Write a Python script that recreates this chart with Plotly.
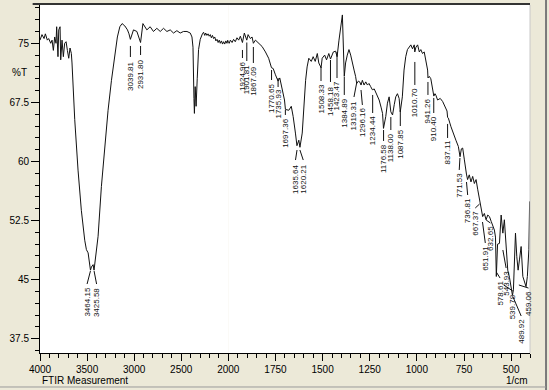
import plotly.graph_objects as go

# ---------------- data ----------------
wavenumber = [
    4000, 3979, 3957, 3943, 3922, 3908, 3886, 3872, 3858, 3844, 3830, 3823, 3809, 3801,
    3787, 3780, 3766, 3752, 3738, 3723, 3709, 3695, 3681, 3667, 3660, 3631, 3596, 3561,
    3525, 3507, 3489, 3472, 3464, 3454, 3436, 3426, 3412, 3383, 3348, 3312, 3277, 3241,
    3205, 3178, 3152, 3128, 3099, 3071, 3055, 3040, 3007, 2971, 2932, 2907, 2865, 2830,
    2795, 2759, 2723, 2688, 2652, 2617, 2582, 2546, 2511, 2476, 2439, 2404, 2386, 2375,
    2365, 2360, 2352, 2342, 2330, 2316, 2298, 2291, 2275, 2263, 2250, 2240, 2227, 2215,
    2203, 2191, 2180, 2168, 2156, 2144, 2132, 2120, 2108, 2096, 2085, 2073, 2061, 2050,
    2038, 2026, 2014, 2005, 1995, 1989, 1980, 1972, 1963, 1954, 1945, 1936, 1925, 1915,
    1902, 1895, 1883, 1874, 1867, 1856, 1839, 1821, 1803, 1786, 1771, 1762, 1750, 1736,
    1727, 1714, 1702, 1697, 1679, 1666, 1656, 1644, 1636, 1626, 1620, 1608, 1600, 1590,
    1582, 1573, 1560, 1550, 1539, 1528, 1520, 1508, 1502, 1489, 1479, 1467, 1458, 1443,
    1431, 1423, 1413, 1404, 1395, 1385, 1378, 1369, 1360, 1351, 1342, 1333, 1325, 1319,
    1310, 1303, 1296, 1289, 1280, 1271, 1262, 1254, 1245, 1236, 1226, 1218, 1200, 1190,
    1182, 1177, 1170, 1165, 1156, 1147, 1138, 1129, 1120, 1112, 1103, 1094, 1088, 1081,
    1077, 1068, 1059, 1050, 1041, 1032, 1023, 1014, 1011, 1005, 996, 987, 979, 970,
    961, 952, 943, 941, 934, 926, 917, 910, 904, 899, 890, 876, 863, 851,
    840, 837, 833, 819, 805, 793, 780, 771, 764, 757, 748, 740, 737, 731,
    722, 713, 704, 695, 686, 677, 669, 659, 651, 642, 633, 624, 615, 606,
    597, 589, 583, 578.6, 572, 562, 553, 544, 536, 527, 518, 509, 500, 493,
    488, 477, 470, 463, 456, 447, 438, 430, 421, 414, 406, 402, 400,
]
transmittance = [
    75.4, 76.1, 75.6, 76.2, 75.4, 75.6, 75.0, 75.4, 74.1, 75.8, 75.0, 77.1, 73.3, 76.7,
    77.1, 72.9, 75.4, 73.3, 75.0, 75.2, 74.1, 73.1, 74.4, 73.7, 72.5, 65.3, 58.9, 53.8,
    50.0, 48.8, 48.4, 46.9, 46.2, 46.6, 46.9, 46.2, 47.5, 50.5, 56.8, 61.9, 66.5, 70.3,
    73.3, 75.8, 77.1, 77.5, 77.2, 76.7, 76.2, 75.5, 76.7, 76.5, 75.1, 77.5, 76.7, 77.1,
    76.5, 76.9, 76.5, 76.9, 76.5, 76.7, 76.3, 76.6, 76.3, 76.5, 76.5, 76.3, 75.8, 74.5,
    68.0, 66.1, 69.5, 67.0, 70.5, 74.2, 75.5, 75.8, 76.2, 76.4, 76.0, 76.3, 76.0, 76.2,
    75.9, 76.1, 75.7, 76.0, 75.6, 75.8, 75.3, 75.5, 75.1, 75.4, 75.0, 75.3, 74.9, 75.2,
    74.9, 75.3, 75.0, 75.4, 75.0, 75.4, 75.1, 75.5, 75.2, 75.7, 75.4, 75.9, 75.1, 76.3,
    75.4, 76.1, 75.6, 75.8, 75.0, 75.4, 75.0, 74.6, 73.9, 73.1, 71.9, 71.8, 71.0, 70.2,
    70.6, 69.1, 67.8, 66.6, 66.5, 67.0, 65.7, 63.6, 62.0, 62.7, 61.8, 63.6, 67.0, 70.3,
    72.0, 73.1, 72.7, 73.3, 72.7, 73.7, 72.5, 71.9, 73.1, 73.5, 72.9, 73.7, 73.0, 73.9,
    74.0, 73.3, 75.4, 77.1, 78.6, 70.8, 72.5, 73.5, 74.2, 73.5, 72.7, 71.6, 70.8, 69.9,
    70.2, 70.1, 69.7, 70.3, 69.7, 70.1, 69.7, 69.9, 69.5, 69.1, 69.2, 68.7, 67.8, 66.9,
    66.1, 64.2, 65.0, 65.7, 67.4, 68.2, 66.3, 65.9, 67.2, 68.2, 68.6, 68.0, 66.3, 68.0,
    68.2, 71.6, 73.3, 74.2, 74.5, 74.8, 74.3, 74.8, 73.9, 74.5, 74.8, 73.9, 74.2, 73.7,
    73.9, 72.9, 71.6, 70.6, 70.8, 70.5, 69.5, 68.3, 68.6, 68.4, 67.8, 68.0, 67.6, 67.0,
    66.4, 65.6, 65.5, 64.4, 63.6, 62.7, 61.9, 60.6, 61.6, 61.7, 60.2, 58.5, 58.4, 57.7,
    58.3, 57.4, 58.1, 57.2, 57.7, 56.4, 55.3, 54.3, 53.0, 53.4, 52.6, 53.2, 53.0, 52.4,
    51.9, 51.3, 50.4, 45.4, 49.5, 49.6, 53.2, 50.9, 52.6, 49.2, 46.2, 45.3, 44.1, 43.0,
    43.7, 50.9, 47.9, 46.2, 47.5, 49.2, 45.4, 44.6, 44.1, 45.4, 48.8, 54.9, 54.9,
]

# peak labels (value = wavenumber of the picked peak)
peak_labels = [
    "3464.15", "3425.58", "3039.81", "2931.80", "1924.96", "1901.81", "1867.09",
    "1770.65", "1735.93", "1697.36", "1635.64", "1620.21", "1508.33", "1458.18",
    "1423.47", "1384.89", "1319.31", "1296.16", "1234.44", "1176.58", "1138.00",
    "1087.85", "1010.70", "941.26", "910.40", "837.11", "771.53", "736.81",
    "667.37", "651.91", "632.65", "578.61", "543.93", "539.78", "489.92", "459.06",
]
# where each label's text sits (wavenumber) and its leader / text levels (%T)
label_text_wn = [
    3500, 3399, 3039.81, 2931.80, 1924.96, 1901.81, 1867.09,
    1770.65, 1735.93, 1697.36, 1643.6, 1602.7, 1508.33, 1458.18,
    1423.47, 1384.89, 1333.5, 1288.9, 1234.44, 1176.58, 1138.00,
    1087.85, 1010.70, 941.26, 910.40, 837.11, 775.3, 730.6,
    690.2, 637.0, 610.2, 558.7, 526.6, 491.0, 446.8, 408.0,
]
leader_start_T = [
    46.09, 46.09, 74.66, 74.66, 74.15, 75.10, 74.53,
    71.61, 70.59, 66.53, 61.45, 61.45, 71.99, 72.88,
    73.90, 70.72, 69.96, 69.07, 68.44, 63.99, 65.64,
    66.53, 72.63, 70.09, 68.06, 64.76, 60.44, 57.39,
    54.60, 52.31, 52.57, 45.96, 48.76, 44.32, 42.79, 44.32,
]
leader_end_T = [
    44.44, 44.44, 73.26, 73.51, 73.13, 72.75, 72.50,
    70.34, 69.45, 65.90, 60.18, 60.18, 70.21, 70.09,
    70.59, 68.44, 68.18, 67.17, 66.15, 62.60, 63.99,
    64.50, 69.71, 68.44, 66.15, 62.98, 58.92, 55.74,
    54.09, 49.65, 52.19, 45.20, 46.47, 43.55, 40.38, 43.93,
]
label_top_T = [
    44.06, 44.06, 72.75, 73.01, 72.75, 72.37, 72.12,
    69.96, 69.20, 65.52, 59.68, 59.68, 69.83, 69.58,
    70.21, 68.06, 67.80, 66.91, 65.90, 62.34, 63.74,
    64.12, 69.45, 68.18, 65.90, 62.73, 58.66, 55.49,
    53.84, 49.39, 51.93, 44.95, 46.21, 43.30, 40.12, 43.68,
]

x_ticks_high = [4000, 3500, 3000, 2500]
x_minor_high = [3900, 3800, 3700, 3600, 3400, 3300, 3200, 3100,
                2900, 2800, 2700, 2600, 2400, 2300, 2200, 2100]
x_ticks_low = [2000, 1750, 1500, 1250, 1000, 750, 500]
x_minor_low = [v for v in range(1950, 399, -50) if v % 250 != 0]
y_ticks = [75, 67.5, 60, 52.5, 45, 37.5]
y_ticktext = ["75", "67.5", "60", "52.5", "45", "37.5"]

# ---------------- figure ----------------
FONT = "Liberation Sans, Arial, sans-serif"
split = 188.3 / 490.0  # 4000-2000 is drawn at half scale

fig = go.Figure()
for xa in ("x", "x2"):
    fig.add_trace(go.Scatter(
        x=wavenumber, y=transmittance, xaxis=xa, yaxis="y", mode="lines",
        line=dict(color="#111111", width=1), hoverinfo="skip", showlegend=False))

# leader lines
lx, ly = [], []
for w_txt, w_lab, t0, t1 in zip(label_text_wn, peak_labels, leader_start_T, leader_end_T):
    lx += [float(w_lab), w_txt, None]
    ly += [t0, t1, None]
for xa in ("x", "x2"):
    fig.add_trace(go.Scatter(
        x=lx, y=ly, xaxis=xa, yaxis="y", mode="lines",
        line=dict(color="#111111", width=1), hoverinfo="skip", showlegend=False))

annotations = []
for txt, w_txt, t_top in zip(peak_labels, label_text_wn, label_top_T):
    annotations.append(dict(
        text=txt, x=w_txt, y=t_top, xref="x" if w_txt >= 2000 else "x2", yref="y",
        xanchor="center", yanchor="top", textangle=-90, showarrow=False,
        font=dict(family=FONT, size=8, color="#111111"), borderpad=0))

annotations += [
    dict(text="%T", xref="paper", yref="y", x=-0.022, y=71.25, xanchor="right",
         yanchor="middle", showarrow=False, font=dict(family=FONT, size=10, color="black")),
    dict(text="FTIR Measurement", xref="paper", yref="paper", x=0, y=-0.078,
         xanchor="left", yanchor="middle", showarrow=False,
         font=dict(family=FONT, size=10, color="black")),
    dict(text="1/cm", xref="paper", yref="paper", x=1, y=-0.078,
         xanchor="right", yanchor="middle", showarrow=False,
         font=dict(family=FONT, size=10, color="black")),
]

axis_common = dict(showgrid=False, zeroline=False, showline=True, linecolor="black",
                   linewidth=1, ticks="outside", ticklen=7, tickcolor="black",
                   tickfont=dict(family=FONT, size=10, color="black"), anchor="y")

fig.update_layout(
    width=549, height=390,
    margin=dict(l=40, r=19, t=5, b=37),
    paper_bgcolor="#ECE9D8", plot_bgcolor="white",
    xaxis=dict(domain=[0, split], range=[4000, 2000], tickmode="array",
               tickvals=x_ticks_high, ticktext=[str(v) for v in x_ticks_high],
               minor=dict(tickmode="array", tickvals=x_minor_high, ticklen=4,
                          ticks="outside", tickcolor="black"),
               **axis_common),
    xaxis2=dict(domain=[split, 1], range=[2000, 400], tickmode="array",
                tickvals=x_ticks_low, ticktext=[str(v) for v in x_ticks_low],
                minor=dict(tickmode="array", tickvals=x_minor_low, ticklen=4,
                           ticks="outside", tickcolor="black"),
                **axis_common),
    yaxis=dict(range=[35.685, 79.86], tickmode="array", tickvals=y_ticks,
               ticktext=y_ticktext, showgrid=False, zeroline=False, showline=True,
               linecolor="black", linewidth=1, ticks="outside", ticklen=8,
               tickcolor="black", anchor="x",
               minor=dict(dtick=1.5, tick0=37.5, ticklen=4, ticks="outside",
                          tickcolor="black"),
               tickfont=dict(family=FONT, size=10, color="black")),
    annotations=annotations,
    shapes=[
        dict(type="line", xref="paper", yref="paper", x0=-0.015, x1=1, y0=1.003, y1=1.003,
             line=dict(color="#333333", width=2)),
        dict(type="line", xref="paper", yref="paper", x0=1, x1=1, y0=0, y1=1,
             line=dict(color="#C8C8C8", width=1)),
        dict(type="line", xref="paper", yref="paper", x0=1.0327, x1=1.0327, y0=-0.11, y1=1.02,
             line=dict(color="#7A7A7A", width=2)),
        dict(type="line", xref="paper", yref="paper", x0=-0.09, x1=1.0327, y0=-0.0977, y1=-0.0977,
             line=dict(color="#9A9A9A", width=1)),
    ],
    showlegend=False,
)

fig.write_html(
    "out.html",
    config={"displayModeBar": False},
    post_script="document.body.style.margin='0';document.body.style.background='#ECE9D8';",
)
